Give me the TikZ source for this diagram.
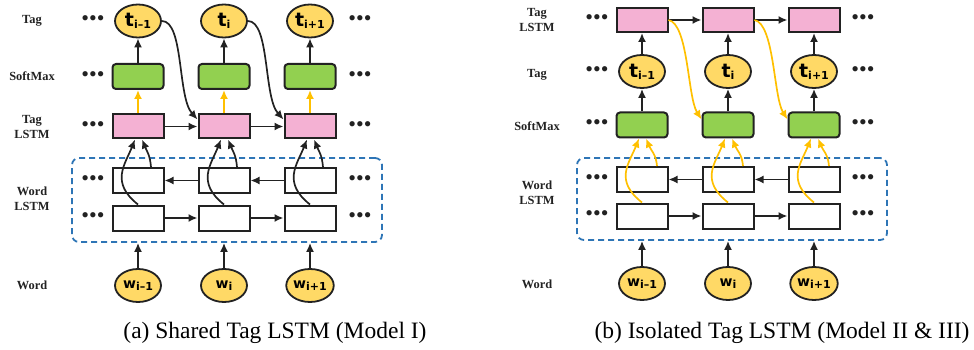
\documentclass[tikz,border=0pt]{standalone}
\usepackage{fontspec}
\setmainfont{Liberation Serif}
\newfontfamily\symfont{DejaVu Sans}
\usetikzlibrary{arrows.meta,shapes}

\definecolor{tagyellow}{RGB}{255,217,102}
\definecolor{softgreen}{RGB}{146,208,80}
\definecolor{lstmpink}{RGB}{244,177,211}
\definecolor{boxblue}{RGB}{46,117,182}
\definecolor{flowyellow}{RGB}{255,192,0}
\definecolor{linegray}{RGB}{34,34,34}

\newcommand{\varlabel}[3]{{\symfont\bfseries\fontsize{#1}{#1}\selectfont #2\raisebox{-2pt}{\fontsize{11}{11}\selectfont #3}}}
\newcommand{\threedots}{\textbullet\textbullet\textbullet}

\tikzstyle{tagvertex}=[ellipse,draw=linegray,line width=1.8pt,fill=tagyellow,minimum width=46pt,minimum height=33pt,inner sep=0pt]
\tikzstyle{softbox}=[rectangle,rounded corners=3.5pt,draw=linegray,line width=2pt,fill=softgreen,minimum width=51pt,minimum height=25pt]
\tikzstyle{lstmbox}=[rectangle,draw=linegray,line width=2pt,fill=lstmpink,minimum width=51pt,minimum height=24pt]
\tikzstyle{wordbox}=[rectangle,draw=linegray,line width=2pt,fill=white,minimum width=51pt,minimum height=25pt]
\tikzstyle{dashbox}=[rectangle,draw=boxblue,line width=1.8pt,dash pattern=on 6pt off 4pt,rounded corners=7pt,minimum width=310pt]
\tikzstyle{edge}=[draw=linegray,line width=1.7pt,-{Latex[length=9pt,width=8pt]}]
\tikzstyle{yedge}=[edge,draw=flowyellow,color=flowyellow]
\tikzstyle{rowlabel}=[font=\bfseries\fontsize{12.4}{15}\selectfont,align=center,text=linegray]
\tikzstyle{dotsnode}=[font=\fontsize{22}{22}\selectfont,text=linegray,inner sep=0pt]
\tikzstyle{caption}=[font=\fontsize{23.5}{28}\selectfont]

\begin{document}
\begin{tikzpicture}[x=1pt,y=-1pt]
    \useasboundingbox (0,0) rectangle (974,350);

    % (a) shared tag lstm
    \node[dashbox,minimum height=84pt] (wordsA) at (227,200) {};

    \foreach \x/\n/\sub in {138/1/{i–1}, 224/2/{i}, 310/3/{i+1}} {
        \node[tagvertex] (tagA\n) at (\x,21) {\varlabel{19}{t}{\sub}};
        \node[softbox] (smA\n) at (\x,76.5) {};
        \node[lstmbox] (tlA\n) at (\x,126.5) {};
        \node[wordbox] (bwA\n) at (\x,180.5) {};
        \node[wordbox] (fwA\n) at (\x,218) {};
        \node[tagvertex] (wordA\n) at (\x,285.5) {\varlabel{14}{w}{\sub}};
    }

    \foreach \y [count=\k] in {21,76.5,126.5,180.5,218} {
        \node[dotsnode] (dlA\k) at (93,\y) {\threedots};
        \node[dotsnode] (drA\k) at (360,\y) {\threedots};
    }

    \node[rowlabel] (labA1) at (32,21) {Tag};
    \node[rowlabel] (labA2) at (32,76.5) {SoftMax};
    \node[rowlabel] (labA3) at (32,127) {Tag\\LSTM};
    \node[rowlabel] (labA4) at (32,199) {Word\\LSTM};
    \node[rowlabel] (labA5) at (32,285) {Word};

    \foreach \n in {1,2,3} {
        \path[edge] (smA\n) -- (tagA\n);
        \path[yedge] (tlA\n) -- (smA\n);
        \path[edge] (wordA\n) -- (wordA\n |- wordsA.south);
        \path[edge] (fwA\n.north) .. controls +(-28,-22) and +(-10,25) .. ([xshift=-3pt]tlA\n.south);
        \path[edge] ([xshift=13pt]bwA\n.north) .. controls +(-1,-12) and +(5,12) .. ([xshift=4pt]tlA\n.south);
    }
    \foreach \a/\b in {1/2, 2/3} {
        \path[edge] (tlA\a) -- (tlA\b);
        \path[edge] (fwA\a) -- (fwA\b);
        \path[edge] (bwA\b) -- (bwA\a);
        \path[edge] (tagA\a.east) .. controls +(22,0) and +(-20,-22) .. (tlA\b.165);
    }

    \node[caption] (capA) at (275,333) {(a) Shared Tag LSTM (Model I)};

    % (b) isolated tag lstm
    \node[dashbox,minimum height=82pt] (wordsB) at (732,199) {};

    \foreach \x/\n/\sub in {642/1/{i–1}, 728/2/{i}, 814/3/{i+1}} {
        \node[lstmbox] (tlB\n) at (\x,20) {};
        \node[tagvertex] (tagB\n) at (\x,71.5) {\varlabel{19}{t}{\sub}};
        \node[softbox] (smB\n) at (\x,125) {};
        \node[wordbox] (bwB\n) at (\x,179.5) {};
        \node[wordbox] (fwB\n) at (\x,216) {};
        \node[tagvertex] (wordB\n) at (\x,283.5) {\varlabel{14}{w}{\sub}};
    }

    \foreach \y [count=\k] in {20,71.5,125,179.5,216} {
        \node[dotsnode] (dlB\k) at (597,\y) {\threedots};
        \node[dotsnode] (drB\k) at (863,\y) {\threedots};
    }

    \node[rowlabel] (labB1) at (537,20) {Tag\\LSTM};
    \node[rowlabel] (labB2) at (537,75) {Tag};
    \node[rowlabel] (labB3) at (537,126) {SoftMax};
    \node[rowlabel] (labB4) at (537,193) {Word\\LSTM};
    \node[rowlabel] (labB5) at (537,284) {Word};

    \foreach \n in {1,2,3} {
        \path[edge] (smB\n) -- (tagB\n);
        \path[edge] (tagB\n) -- (tlB\n);
        \path[edge] (wordB\n) -- (wordB\n |- wordsB.south);
        \path[yedge] (fwB\n.north) .. controls +(-28,-22) and +(-10,25) .. ([xshift=-3pt]smB\n.south);
        \path[yedge] ([xshift=15pt]bwB\n.north) .. controls +(-1,-12) and +(5,12) .. ([xshift=4pt]smB\n.south);
    }
    \foreach \a/\b in {1/2, 2/3} {
        \path[edge] (tlB\a) -- (tlB\b);
        \path[edge] (fwB\a) -- (fwB\b);
        \path[edge] (bwB\b) -- (bwB\a);
        \path[yedge] (tlB\a.east) .. controls +(20,4) and +(-14,-22) .. (smB\b.168);
    }

    \node[caption] (capB) at (782,333) {(b) Isolated Tag LSTM (Model II \& III)};
\end{tikzpicture}
\end{document}
